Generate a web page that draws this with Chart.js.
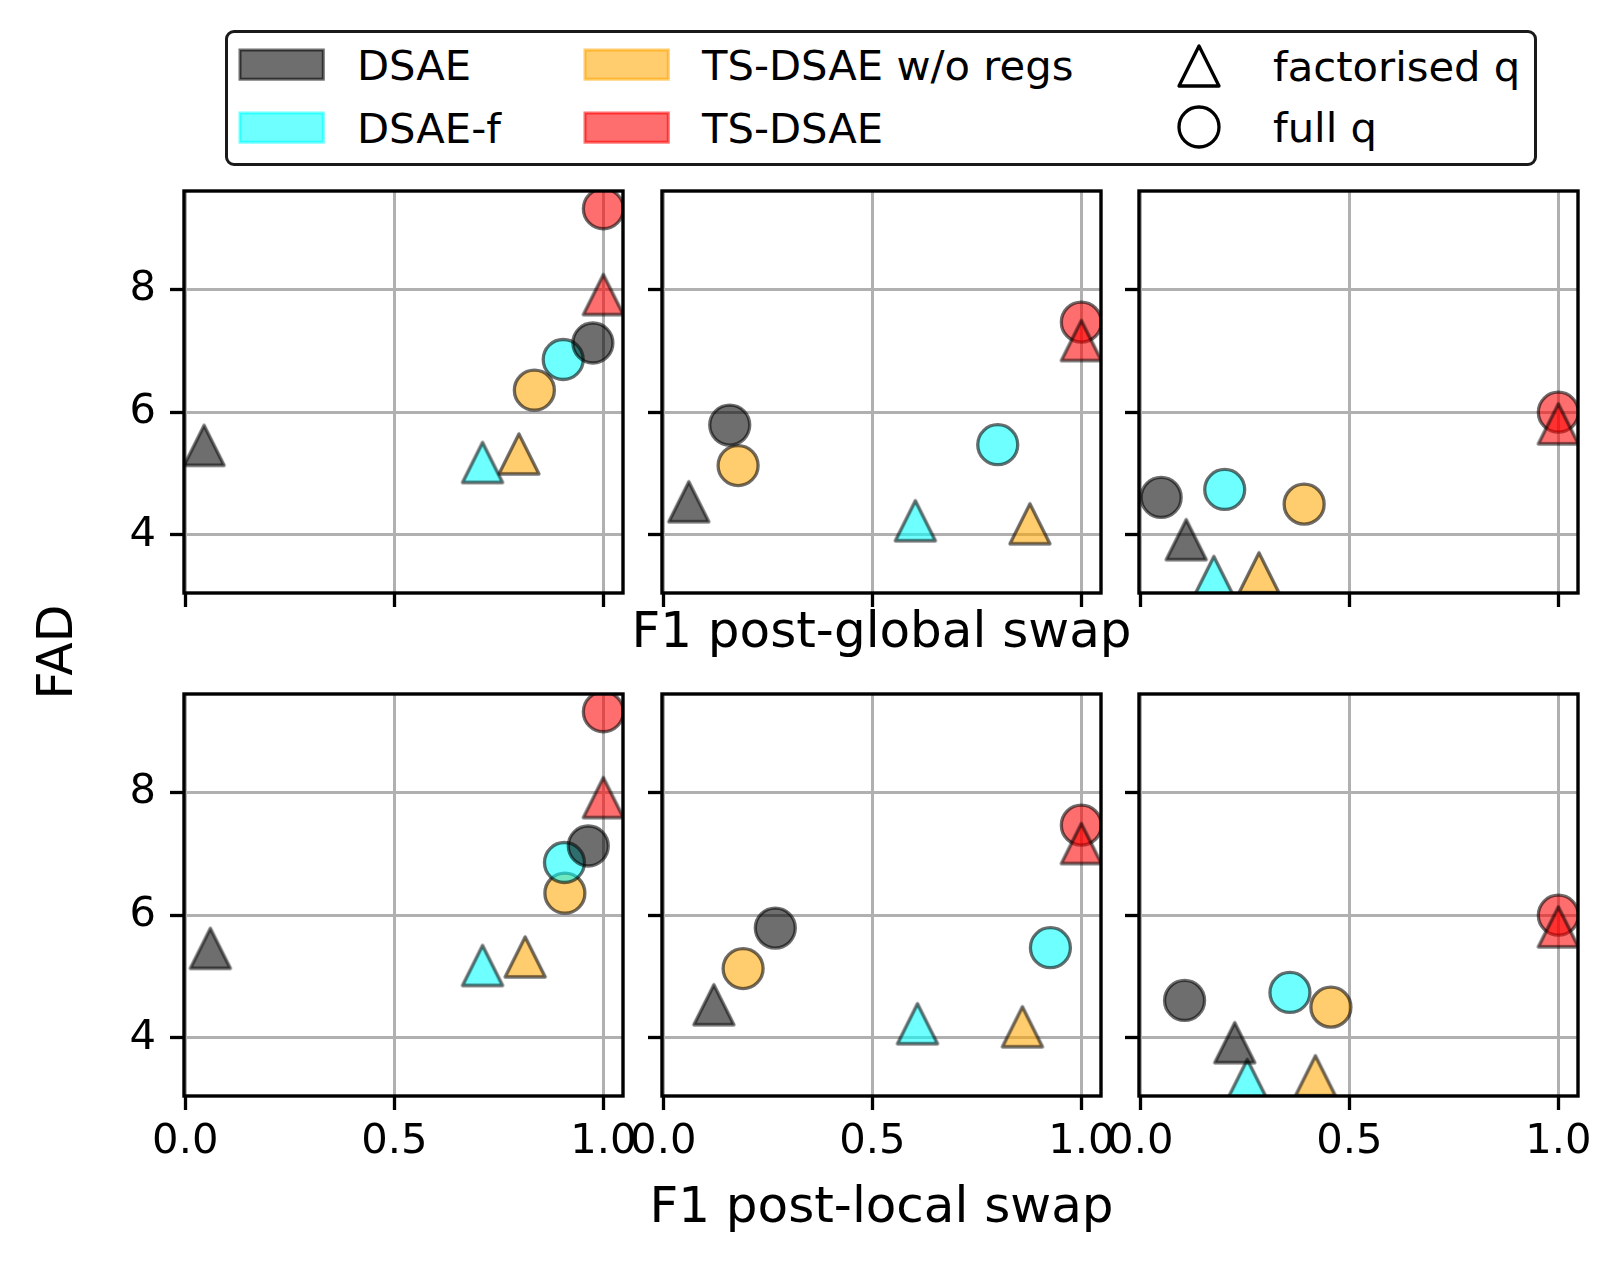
<!DOCTYPE html>
<html>
<head>
<meta charset="utf-8">
<script src="https://cdn.jsdelivr.net/npm/chart.js@4.4.1/dist/chart.umd.min.js"></script>
<style>
  html, body { margin:0; padding:0; background:#fff; }
  body { width:1621px; height:1262px; position:relative; overflow:hidden; font-family:"DejaVu Sans", sans-serif; color:#000; }
  canvas.panel { position:absolute; }
  .txt { position:absolute; white-space:nowrap; color:#000; }
  #legendBox { position:absolute; left:225px; top:30px; width:1312px; height:136px; box-sizing:border-box; border:3px solid #1a1a1a; border-radius:9px; background:#fff; }
  svg.handle { position:absolute; overflow:visible; }
</style>
</head>
<body>
<div id="legendBox"></div>
<script>
// ---------------- DATA ----------------
const methods = ['DSAE', 'DSAE-f', 'TS-DSAE w/o regs', 'TS-DSAE'];
const posteriorLabels = ['factorised q', 'full q'];
const xTickValues = [0, 0.5, 1.0];
const yTickValues = [4, 6, 8];
const rowAxisTitles = ['F1 post-global swap', 'F1 post-local swap'];
const yAxisTitle = 'FAD';

// FAD for each panel column; order inside: DSAE, DSAE-f, TS-DSAE w/o regs, TS-DSAE
const fadFactorised = [
  [5.46, 5.18, 5.32, 7.92],
  [4.54, 4.23, 4.18, 7.17],
  [3.92, 3.32, 3.38, 5.81]
];
const fadFull = [
  [7.13, 6.86, 6.36, 9.32],
  [5.79, 5.47, 5.13, 7.47],
  [4.61, 4.74, 4.50, 6.00]
];
// F1 after global swap (top row)
const f1GlobalFactorised = [
  [0.045, 0.711, 0.798, 1.0],
  [0.061, 0.603, 0.877, 1.0],
  [0.110, 0.176, 0.284, 1.0]
];
const f1GlobalFull = [
  [0.975, 0.904, 0.835, 1.0],
  [0.159, 0.800, 0.179, 1.0],
  [0.050, 0.202, 0.392, 1.0]
];
// F1 after local swap (bottom row)
const f1LocalFactorised = [
  [0.060, 0.711, 0.813, 1.0],
  [0.121, 0.608, 0.859, 1.0],
  [0.226, 0.256, 0.419, 1.0]
];
const f1LocalFull = [
  [0.964, 0.907, 0.908, 1.0],
  [0.268, 0.926, 0.191, 1.0],
  [0.106, 0.358, 0.456, 1.0]
];

// ---------------- STYLE / LAYOUT ----------------
const methodRGB = ['0,0,0', '0,255,255', '255,165,0', '255,0,0'];
const ALPHA = 0.57;
const fillOf = rgb => `rgba(${rgb},${ALPHA})`;
const EDGE = `rgba(0,0,0,${ALPHA})`;
const FONT = '"DejaVu Sans", sans-serif';
const TICK_FONT = 41.7;

const COL_LEFT = [184, 662, 1139];
const ROW_TOP = [191, 694];
const PW = 439, PH = 402;
const YW = 100, RP = 40, TP = 10, XH = 90;
const X_MIN = -0.003, X_MAX = 1.047;
const Y_MIN = 3.05, Y_MAX = 9.61;
const MARKER_R = 20;

function triangleImage(rgb) {
  const size = 54, c = size / 2, h = MARKER_R;
  const cv = document.createElement('canvas');
  cv.width = size; cv.height = size;
  const g = cv.getContext('2d');
  g.beginPath();
  g.moveTo(c, c - h); g.lineTo(c - h, c + h); g.lineTo(c + h, c + h); g.closePath();
  g.fillStyle = fillOf(rgb); g.fill();
  g.lineJoin = 'round'; g.lineWidth = 3.3; g.strokeStyle = EDGE; g.stroke();
  return cv;
}
const triImgs = methodRGB.map(c => triangleImage(c));

const spinePlugin = {
  id: 'spines',
  afterDatasetsDraw(chart) {
    const { ctx, chartArea: a } = chart;
    ctx.save();
    ctx.strokeStyle = '#000';
    ctx.lineWidth = 3.4;
    ctx.strokeRect(a.left, a.top, a.right - a.left, a.bottom - a.top);
    ctx.restore();
  }
};

const rowX = [[f1GlobalFactorised, f1GlobalFull], [f1LocalFactorised, f1LocalFull]];

function makePanel(r, c) {
  const cv = document.createElement('canvas');
  cv.className = 'panel';
  const W = YW + PW + RP, H = TP + PH + XH;
  cv.width = W; cv.height = H;
  cv.style.left = (COL_LEFT[c] - YW) + 'px';
  cv.style.top = (ROW_TOP[r] - TP) + 'px';
  cv.style.width = W + 'px'; cv.style.height = H + 'px';
  document.body.appendChild(cv);

  const datasets = [];
  for (let m = 0; m < methods.length; m++) {
    datasets.push({
      label: methods[m] + ' / ' + posteriorLabels[0],
      data: [{ x: rowX[r][0][c][m], y: fadFactorised[c][m] }],
      pointStyle: triImgs[m], pointRadius: MARKER_R
    });
    datasets.push({
      label: methods[m] + ' / ' + posteriorLabels[1],
      data: [{ x: rowX[r][1][c][m], y: fadFull[c][m] }],
      pointStyle: 'circle', pointRadius: MARKER_R,
      backgroundColor: fillOf(methodRGB[m]), borderColor: EDGE, borderWidth: 3.3
    });
  }

  const zeroPad = s => { s.paddingLeft = 0; s.paddingRight = 0; s.paddingTop = 0; s.paddingBottom = 0; };

  new Chart(cv, {
    type: 'scatter',
    data: { datasets },
    options: {
      responsive: false, animation: false, devicePixelRatio: 1, events: [],
      layout: { autoPadding: false, padding: { left: 0, top: TP, right: RP, bottom: 0 } },
      plugins: { legend: { display: false }, tooltip: { enabled: false } },
      scales: {
        x: {
          type: 'linear', min: X_MIN, max: X_MAX,
          afterBuildTicks: s => { s.ticks = xTickValues.map(v => ({ value: v })); },
          afterFit: s => { s.height = XH; zeroPad(s); },
          grid: { color: '#b0b0b0', lineWidth: 3, drawTicks: true, tickLength: 14, tickColor: '#000', tickWidth: 3.3 },
          border: { display: false },
          ticks: {
            display: r === 1, autoSkip: false, maxRotation: 0, padding: 7, color: '#000',
            font: { family: FONT, size: TICK_FONT },
            callback: v => Number(v).toFixed(1)
          }
        },
        y: {
          type: 'linear', min: Y_MIN, max: Y_MAX,
          afterBuildTicks: s => { s.ticks = yTickValues.map(v => ({ value: v })); },
          afterFit: s => { s.width = YW; zeroPad(s); },
          grid: { color: '#b0b0b0', lineWidth: 3, drawTicks: true, tickLength: 14, tickColor: '#000', tickWidth: 3.3 },
          border: { display: false },
          ticks: {
            display: c === 0, autoSkip: false, padding: 14, color: '#000',
            font: { family: FONT, size: TICK_FONT },
            callback: v => String(v)
          }
        }
      }
    },
    plugins: [spinePlugin]
  });
}

for (let r = 0; r < 2; r++) for (let c = 0; c < 3; c++) makePanel(r, c);

// ---------------- AXIS TITLES ----------------
function addText(str, size, left, top, extra) {
  const d = document.createElement('div');
  d.className = 'txt';
  d.textContent = str;
  d.style.fontFamily = FONT;
  d.style.fontSize = size + 'px';
  d.style.lineHeight = size + 'px';
  d.style.left = left + 'px';
  d.style.top = top + 'px';
  if (extra) Object.assign(d.style, extra);
  document.body.appendChild(d);
  return d;
}
const XT = 50;
addText(rowAxisTitles[0], XT, 881.5, 647 - 0.846 * XT, { transform: 'translateX(-50%)' });
addText(rowAxisTitles[1], XT, 881.5, 1222 - 0.846 * XT, { transform: 'translateX(-50%)' });
addText(yAxisTitle, 49, 55, 652, { transform: 'translate(-50%,-50%) rotate(-90deg)' });

// ---------------- LEGEND ----------------
const LF = 41.7;
const legendRowY = [64.6, 127.7];
const legendCols = [{ h: 240, t: 357 }, { h: 585, t: 702 }];
const NS = 'http://www.w3.org/2000/svg';
function svgEl(tag, attrs) { const e = document.createElementNS(NS, tag); for (const k in attrs) e.setAttribute(k, attrs[k]); return e; }
methods.forEach((name, i) => {
  const col = legendCols[Math.floor(i / 2)];
  const cy = legendRowY[i % 2];
  const svg = svgEl('svg', { class: 'handle', width: 84, height: 30 });
  svg.style.left = col.h + 'px'; svg.style.top = (cy - 14.6) + 'px';
  svg.appendChild(svgEl('rect', { x: 0, y: 0, width: 83.3, height: 29.2, fill: fillOf(methodRGB[i]), stroke: fillOf(methodRGB[i]), 'stroke-width': 3 }));
  document.body.appendChild(svg);
  addText(name, LF, col.t, cy - 20.1);
});
posteriorLabels.forEach((name, i) => {
  const cy = legendRowY[i] + (i === 0 ? 1 : -0.5);
  const cx = 1199;
  const svg = svgEl('svg', { class: 'handle', width: 50, height: 50 });
  svg.style.left = (cx - 25) + 'px'; svg.style.top = (cy - 25) + 'px';
  if (i === 0) {
    svg.appendChild(svgEl('polygon', { points: `25,${25 - MARKER_R} ${25 - MARKER_R},${25 + MARKER_R} ${25 + MARKER_R},${25 + MARKER_R}`, fill: 'none', stroke: '#000', 'stroke-width': 3.3, 'stroke-linejoin': 'round' }));
  } else {
    svg.appendChild(svgEl('circle', { cx: 25, cy: 25, r: MARKER_R, fill: 'none', stroke: '#000', 'stroke-width': 3.3 }));
  }
  document.body.appendChild(svg);
  addText(name, LF, 1273, cy - 20.1);
});
</script>
</body>
</html>
